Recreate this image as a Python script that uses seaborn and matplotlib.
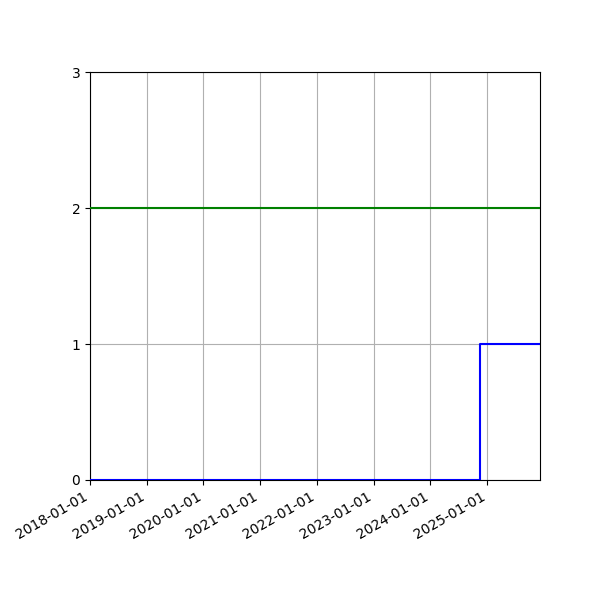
import pandas as pd
import matplotlib
matplotlib.use('Agg')
import matplotlib.pyplot as plt
import matplotlib.dates as mdates
import seaborn as sns

#--------------------------------------------------------
step_dates=['2018-01-01', '2024-11-13', '2025-12-06']
step_values=[0, 1, 1]
level_dates=['2018-01-01', '2025-12-06']
level_values=[2, 2]

#--------------------------------------------------------
df_step=pd.DataFrame({'date': pd.to_datetime(step_dates), 'value': step_values})
df_level=pd.DataFrame({'date': pd.to_datetime(level_dates), 'value': level_values})

fig, ax=plt.subplots(figsize=(6,6), dpi=100)
sns.lineplot(x='date', y='value', data=df_step, color='blue', drawstyle='steps-post', ax=ax, zorder=3)
sns.lineplot(x='date', y='value', data=df_level, color='green', ax=ax, zorder=3)

#adjust
ax.set_xlim(df_step['date'].min(), df_step['date'].max())
ax.set_ylim(0, 3)
ax.set_yticks([0, 1, 2, 3])
ax.xaxis.set_major_locator(mdates.YearLocator())
ax.xaxis.set_major_formatter(mdates.DateFormatter('%Y-%m-%d'))
ax.grid(True)
ax.set_xlabel('')
ax.set_ylabel('')
fig.autofmt_xdate()
plt.subplots_adjust(left=0.15, right=0.9, top=0.88, bottom=0.2)

#save
plt.savefig('out.png', dpi=100)
plt.close()
